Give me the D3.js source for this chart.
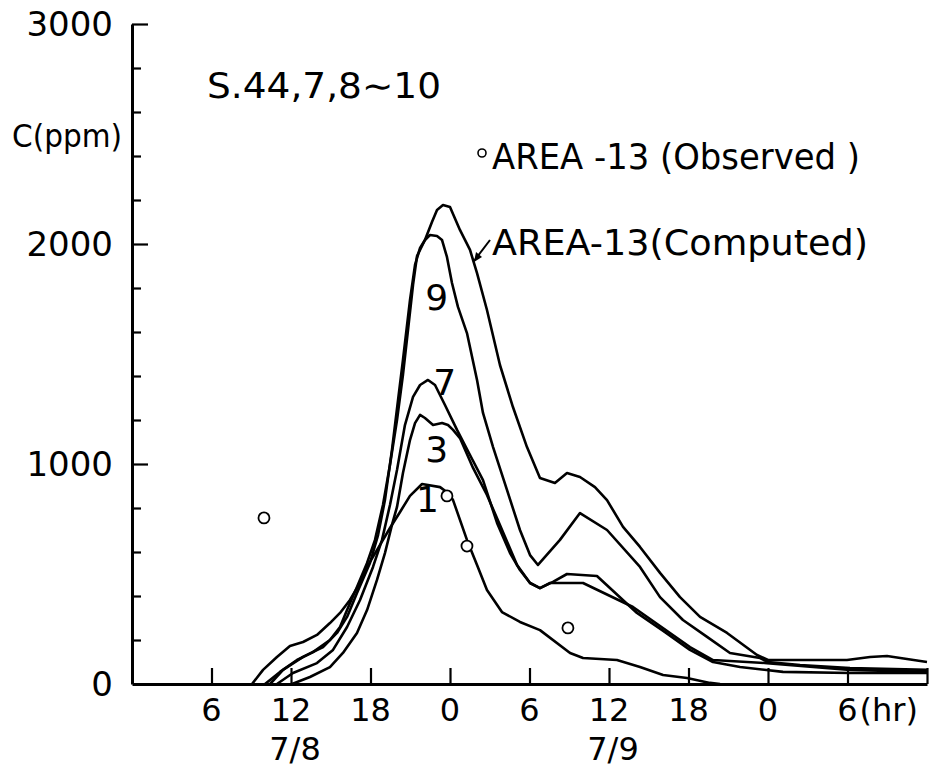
<!DOCTYPE html>
<html>
<head>
<meta charset="utf-8">
<script src="https://cdn.jsdelivr.net/npm/d3@7/dist/d3.min.js"></script>
<style>
  html, body { margin: 0; padding: 0; background: #fff; }
  svg { display: block; }
  text { font-family: "DejaVu Sans", "Liberation Sans", sans-serif; fill: #000; }
</style>
</head>
<body>
<svg id="chart" width="931" height="768"></svg>
<script>
// ---- data (hour from 7/8 0:00, concentration ppm) ----
const xTickValues = [6, 12, 18, 24, 30, 36, 42, 48, 54, 60];
const xTickLabels = ["6", "12", "18", "0", "6", "12", "18", "0", "6", ""];
const dateLabels = ["7/8", "7/9"];
const dateHours = [12, 36];
const yMajorTicks = [1000, 2000, 3000];
const yTickLabels = ["0", "1000", "2000", "3000"];
const yLabelValues = [0, 1000, 2000, 3000];

const curve1 = [[9.06,0],[9.89,64],[10.94,123],[11.92,173],[12.91,191],[13.96,223],[14.94,277],[15.70,323],[16.45,382],[17.21,459],[17.74,532],[18.72,632],[19.47,709],[20.23,782],[20.98,855],[21.89,909],[23.25,895],[23.85,868],[24.23,836],[25.28,655],[26.04,541],[26.79,427],[27.92,327],[29.28,282],[30.79,245],[33.06,141],[34.04,118],[36.60,109],[38.34,77],[40.08,41],[41.89,27],[43.62,5],[44.38,0]];
const curve3 = [[12.08,0],[13.43,32],[14.94,77],[15.92,141],[16.98,232],[17.74,336],[18.49,473],[19.09,595],[19.62,723],[20.00,805],[20.45,959],[20.98,1109],[21.36,1186],[21.74,1223],[22.11,1209],[22.72,1177],[23.40,1186],[23.85,1177],[24.23,1155],[24.75,1118],[25.74,982],[26.79,859],[27.77,723],[29.06,541],[30.04,459],[30.79,436],[31.55,459],[34.04,459],[37.81,350],[42.11,168],[43.85,109],[47.92,95],[54.19,64],[60.00,55]];
const curve7 = [[10.94,0],[12.15,50],[13.96,95],[15.17,155],[16.23,259],[17.21,382],[18.19,532],[18.87,655],[19.47,814],[20.00,973],[20.60,1177],[21.21,1305],[21.74,1359],[22.34,1382],[22.87,1359],[23.62,1268],[24.53,1155],[25.51,1041],[26.49,927],[27.55,732],[28.53,595],[29.28,518],[30.04,459],[30.79,436],[31.77,464],[32.83,500],[35.09,491],[38.11,323],[40.23,236],[42.11,155],[43.85,100],[45.89,77],[49.13,55],[54.19,50],[60.00,50]];
const curve9 = [[10.42,0],[11.40,64],[12.91,123],[14.42,168],[15.47,232],[16.23,305],[16.98,414],[17.96,550],[18.57,677],[19.09,836],[19.62,1064],[20.08,1291],[20.45,1473],[20.98,1745],[21.36,1905],[21.74,1982],[22.11,2018],[22.49,2041],[23.02,2036],[23.40,2018],[23.77,1941],[24.15,1823],[24.60,1714],[25.28,1595],[26.04,1382],[26.49,1232],[27.25,1077],[28.30,882],[29.28,700],[30.04,586],[30.64,541],[32.30,655],[33.81,777],[35.85,700],[38.34,532],[39.85,395],[41.58,291],[43.40,214],[45.13,141],[47.40,118],[48.00,100],[50.42,86],[54.19,73],[60.00,64]];
const computed = [[10.04,0],[11.17,55],[12.45,109],[13.66,145],[14.94,200],[15.70,259],[16.23,336],[16.98,441],[17.74,550],[18.34,655],[18.94,814],[19.47,995],[20.00,1200],[20.45,1405],[20.83,1609],[21.21,1814],[21.51,1945],[22.11,2018],[22.64,2100],[23.02,2155],[23.47,2177],[24.00,2168],[24.75,2064],[25.51,1973],[26.04,1868],[26.79,1700],[27.77,1450],[28.75,1259],[29.81,1077],[30.79,936],[31.92,914],[32.83,959],[33.81,941],[34.94,895],[35.85,836],[37.06,714],[38.34,623],[39.85,505],[41.36,395],[42.87,305],[44.91,232],[47.17,132],[48.00,109],[53.96,109],[55.70,123],[56.98,127],[60.00,100]];
const observed = [[9.96,755],[23.77,855],[25.28,627],[32.9,255]];

const curveLabels = ["9", "7", "3", "1"];
const curveLabelPos = [[23.0,1700],[23.6,1315],[23.0,1010],[22.3,780]];

// ---- chart ----
const svg = d3.select("#chart");
const x = d3.scaleLinear().domain([0, 60]).range([132, 927]);
const y = d3.scaleLinear().domain([0, 3000]).range([684, 24]);

// y axis (ticks pointing inward)
const yAxis = svg.append("g").attr("transform", `translate(${x(0)},0)`)
  .call(d3.axisRight(y).tickValues(d3.range(200, 3001, 200)).tickSize(9).tickSizeOuter(0).tickFormat(""));
yAxis.select(".domain").attr("stroke", "#000").attr("stroke-width", 3);
yAxis.selectAll(".tick line").attr("stroke", "#000").attr("stroke-width", 2.2)
  .attr("x2", d => yMajorTicks.includes(d) ? 16 : 9);

// x axis (ticks pointing up)
const xAxis = svg.append("g").attr("transform", `translate(0,${y(0)})`)
  .call(d3.axisTop(x).tickValues(xTickValues).tickSize(16).tickSizeOuter(0).tickFormat(""));
xAxis.select(".domain").attr("stroke", "#000").attr("stroke-width", 3);
xAxis.selectAll(".tick line").attr("stroke", "#000").attr("stroke-width", 2.2);

// y labels
svg.append("g").selectAll("text").data(yLabelValues).join("text")
  .attr("x", 113).attr("y", d => y(d) + 12)
  .attr("text-anchor", "end").attr("font-size", 34)
  .text((d, i) => yTickLabels[i]);

// x labels
svg.append("g").selectAll("text").data(xTickValues).join("text")
  .attr("x", d => x(d)).attr("y", 721)
  .attr("text-anchor", "middle").attr("font-size", 32)
  .text((d, i) => xTickLabels[i]);
svg.append("text").attr("x", x(54) + 12).attr("y", 721).attr("font-size", 32).text("(hr)");

svg.append("g").selectAll("text").data(dateHours).join("text")
  .attr("x", d => x(d) + 4).attr("y", 760)
  .attr("text-anchor", "middle").attr("font-size", 32)
  .text((d, i) => dateLabels[i]);

// axis title and header
svg.append("text").attr("x", 12).attr("y", 147).attr("font-size", 32)
  .attr("textLength", 110).attr("lengthAdjust", "spacingAndGlyphs").text("C(ppm)");
svg.append("text").attr("x", 207).attr("y", 98).attr("font-size", 35)
  .attr("textLength", 234).attr("lengthAdjust", "spacingAndGlyphs").text("S.44,7,8∼10");

// curves
const line = d3.line().x(d => x(d[0])).y(d => y(d[1]));
const series = [curve1, curve3, curve7, curve9, computed];
svg.append("g").selectAll("path").data(series).join("path")
  .attr("d", line).attr("fill", "none").attr("stroke", "#000")
  .attr("stroke-width", 2.6).attr("stroke-linejoin", "round");

// observed points
svg.append("g").selectAll("circle").data(observed).join("circle")
  .attr("cx", d => x(d[0])).attr("cy", d => y(d[1])).attr("r", 5.5)
  .attr("fill", "#fff").attr("stroke", "#000").attr("stroke-width", 1.8);

// curve labels
svg.append("g").selectAll("text").data(curveLabelPos).join("text")
  .attr("x", d => x(d[0])).attr("y", d => y(d[1]))
  .attr("text-anchor", "middle").attr("font-size", 36)
  .text((d, i) => curveLabels[i]);

// legend
svg.append("circle").attr("cx", 482).attr("cy", 153).attr("r", 4)
  .attr("fill", "#fff").attr("stroke", "#000").attr("stroke-width", 1.6);
svg.append("text").attr("x", 492).attr("y", 169).attr("font-size", 36)
  .attr("textLength", 368).attr("lengthAdjust", "spacingAndGlyphs").text("AREA -13 (Observed )");
svg.append("text").attr("x", 492).attr("y", 255).attr("font-size", 36)
  .attr("textLength", 376).attr("lengthAdjust", "spacingAndGlyphs").text("AREA-13(Computed)");
// arrow
svg.append("line").attr("x1", 490).attr("y1", 240).attr("x2", 474).attr("y2", 261)
  .attr("stroke", "#000").attr("stroke-width", 2);
svg.append("path").attr("d", "M474,262 L476,252 L482,257 Z").attr("fill", "#000");
</script>
</body>
</html>
